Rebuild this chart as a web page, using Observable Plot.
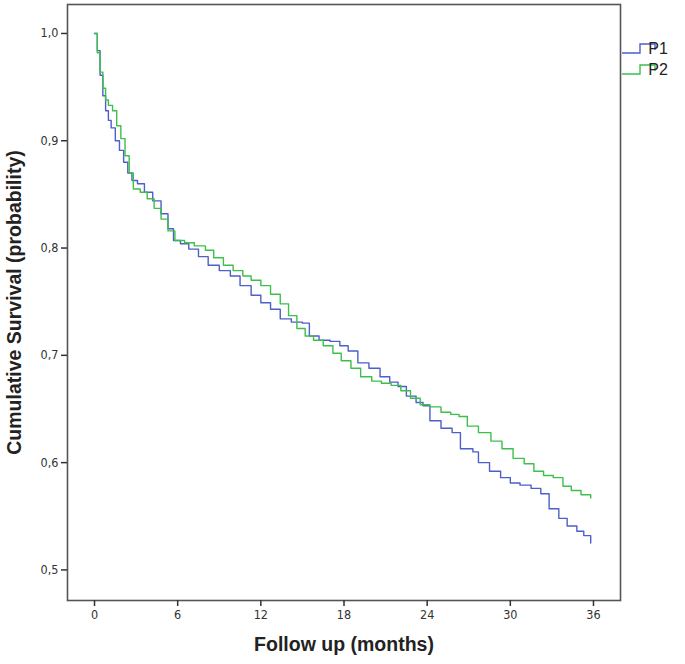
<!DOCTYPE html>
<html>
<head>
<meta charset="utf-8">
<script src="https://cdn.jsdelivr.net/npm/d3@7"></script>
<script src="https://cdn.jsdelivr.net/npm/@observablehq/plot@0.6"></script>
<style>
  html, body { margin: 0; padding: 0; background: #fff; }
  #chart { position: relative; width: 685px; height: 664px; }
</style>
</head>
<body>
<div id="chart"></div>
<script>
// Follow-up times (months) and cumulative survival
const p1Time = [0,0.2,0.4,0.6,0.8,1.0,1.2,1.5,1.8,2.1,2.4,2.7,3.1,3.6,4.2,4.8,5.3,5.7,6.2,6.8,7.5,8.2,9.0,9.8,10.5,11.3,12.0,12.7,13.4,14.2,15.0,15.5,16.2,17.0,17.7,18.3,19.0,19.8,20.6,21.3,21.9,22.5,23.2,23.7,24.2,25.0,25.8,26.4,27.3,27.7,28.5,29.3,30.0,30.7,31.5,32.2,32.8,33.5,34.1,34.8,35.3,35.8];
const p1Surv = [1.000,0.984,0.961,0.942,0.928,0.919,0.912,0.900,0.891,0.880,0.870,0.863,0.860,0.852,0.844,0.832,0.818,0.807,0.804,0.799,0.792,0.784,0.779,0.774,0.765,0.756,0.749,0.743,0.734,0.731,0.730,0.718,0.714,0.713,0.709,0.704,0.693,0.688,0.680,0.675,0.671,0.662,0.656,0.653,0.639,0.632,0.628,0.613,0.610,0.600,0.592,0.586,0.581,0.579,0.576,0.571,0.557,0.548,0.541,0.536,0.532,0.525];
const p2Time = [0,0.2,0.4,0.6,0.8,1.0,1.3,1.6,1.9,2.2,2.5,2.8,3.3,3.8,4.3,4.8,5.3,5.8,6.5,7.2,8.0,8.6,9.3,10.0,10.7,11.3,12.0,12.7,13.4,14.0,14.6,15.2,15.8,16.5,17.2,17.8,18.5,19.2,20.0,20.7,21.4,22.1,22.8,23.5,24.2,25.0,25.7,26.3,26.9,27.7,28.6,29.4,30.2,31.0,31.7,32.4,33.1,33.8,34.4,35.1,35.8];
const p2Surv = [1.000,0.982,0.964,0.949,0.938,0.933,0.928,0.914,0.902,0.886,0.870,0.855,0.852,0.846,0.837,0.827,0.816,0.807,0.805,0.802,0.798,0.791,0.784,0.779,0.774,0.770,0.765,0.757,0.748,0.737,0.725,0.718,0.714,0.709,0.702,0.695,0.688,0.680,0.676,0.674,0.672,0.667,0.660,0.654,0.652,0.647,0.645,0.643,0.634,0.628,0.620,0.613,0.604,0.599,0.592,0.588,0.586,0.578,0.574,0.570,0.567];
const groups = ["P1", "P2"];
const groupColors = ["#4d5fc9", "#3dbf4b"];
const xTicks = [0, 6, 12, 18, 24, 30, 36];
const yTicks = [0.5, 0.6, 0.7, 0.8, 0.9, 1.0];
const xTitle = "Follow up (months)";
const yTitle = "Cumulative Survival (probability)";

const data = [
  ...p1Time.map((t, i) => ({group: "P1", time: t, surv: p1Surv[i]})),
  ...p2Time.map((t, i) => ({group: "P2", time: t, surv: p2Surv[i]}))
];

const W = 685, H = 664;
const mL = 67, mR = 65, mT = 4, mB = 64;

const chart = Plot.plot({
  width: W,
  height: H,
  marginLeft: mL,
  marginRight: mR,
  marginTop: mT,
  marginBottom: mB,
  style: {fontFamily: "'DejaVu Sans Condensed', 'DejaVu Sans', sans-serif", background: "#fff"},
  x: {domain: [-1.95, 37.95], label: null},
  y: {domain: [0.4715, 1.027], label: null},
  color: {domain: groups, range: groupColors},
  marks: [
    Plot.frame({stroke: "#555", strokeWidth: 1.6}),
    Plot.axisX({ticks: xTicks, tickSize: 6, tickPadding: 4, fontSize: 12.5, fill: "#333", stroke: "#333", strokeWidth: 1.5, label: null, tickFormat: d => String(d)}),
    Plot.axisY({ticks: yTicks, tickSize: 6, tickPadding: 3, fontSize: 12.5, fill: "#333", stroke: "#333", strokeWidth: 1.5, label: null, tickFormat: d => d.toFixed(1).replace(".", ",")}),
    Plot.line(data, {x: "time", y: "surv", z: "group", stroke: "group", strokeWidth: 1.4, curve: "step-after"}),
    Plot.text([xTitle], {frameAnchor: "bottom", dy: 50, textAnchor: "middle", fontSize: 19.5, fontWeight: "bold", fill: "#222", fontFamily: "'Liberation Sans', Arial, sans-serif"}),
    Plot.text([yTitle], {frameAnchor: "left", dx: -53, textAnchor: "middle", rotate: -90, fontSize: 19.5, fontWeight: "bold", fill: "#222", fontFamily: "'Liberation Sans', Arial, sans-serif"})
  ]
});

document.getElementById("chart").appendChild(chart);

// Legend (step-shaped symbols, as in SPSS output)
const svg = d3.select(chart);
const lg = svg.append("g").attr("font-family", "'Liberation Sans', Arial, sans-serif");
groups.forEach((g, i) => {
  const y0 = 53 + i * 21;
  const x0 = W - mR + 2;
  lg.append("path")
    .attr("d", `M${x0},${y0}H${x0 + 18}V${y0 - 9}H${x0 + 33}V${y0 - 3}`)
    .attr("fill", "none")
    .attr("stroke", groupColors[i])
    .attr("stroke-width", 1.4);
  lg.append("text")
    .attr("x", x0 + 36)
    .attr("y", y0 + 1)
    .attr("font-size", 16)
    .attr("fill", "#222")
    .text(g);
});
</script>
</body>
</html>
